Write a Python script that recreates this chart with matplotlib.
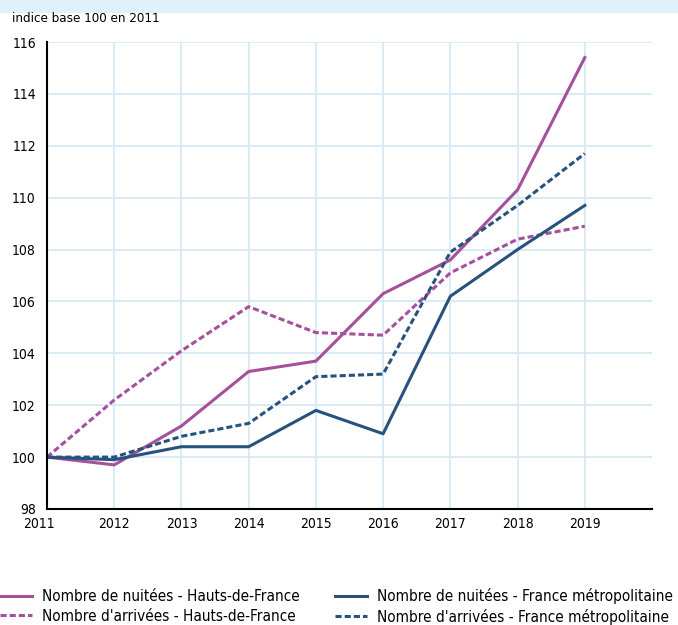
import numpy as np
import matplotlib
matplotlib.use("Agg")
from matplotlib import pyplot as plt
from matplotlib.patches import Rectangle
import matplotlib.transforms as mtransforms

plt.rcParams['font.family'] = ['DejaVu Sans']
plt.rcParams['font.stretch'] = 'condensed'

years = [2011, 2012, 2013, 2014, 2015, 2016, 2017, 2018, 2019]
nuitees_hdf = [100, 99.7, 101.2, 103.3, 103.7, 106.3, 107.6, 110.3, 115.4]
arrivees_hdf = [100, 102.2, 104.1, 105.8, 104.8, 104.7, 107.1, 108.4, 108.9]
nuitees_fr = [100, 99.9, 100.4, 100.4, 101.8, 100.9, 106.2, 108.0, 109.7]
arrivees_fr = [100, 100.0, 100.8, 101.3, 103.1, 103.2, 107.9, 109.7, 111.7]

labels = ["Nombre de nuitées - Hauts-de-France",
          "Nombre d'arrivées - Hauts-de-France",
          "Nombre de nuitées - France métropolitaine",
          "Nombre d'arrivées - France métropolitaine"]

purple = '#a5509a'
blue = '#28527e'
grid_c = '#d5e9f4'

fig = plt.figure(figsize=(6.78, 6.25), dpi=100)
# bandeau du titre (coupé)
fig.patches.append(Rectangle((0, 1 - 12/625), 1, 12/625, transform=fig.transFigure,
                             color='#dff1f9', zorder=0))

ax = fig.add_axes([47/678, 1 - 509/625, 605/678, 467/625])
dash = (0, (2, 1))
ax.plot(years, nuitees_hdf, color=purple, lw=2.2, label=labels[0])
ax.plot(years, arrivees_hdf, color=purple, lw=2.2, ls=dash, label=labels[1])
ax.plot(years, nuitees_fr, color=blue, lw=2.2, label=labels[2])
ax.plot(years, arrivees_fr, color=blue, lw=2.2, ls=dash, label=labels[3])

ax.set_xlim(2011, 2020)
ax.set_ylim(98, 116)
ax.set_xticks(years)
ax.set_yticks(np.arange(98, 117, 2))
ax.grid(True, color=grid_c, lw=1.3)
ax.set_axisbelow(True)
for s in ['top', 'right']:
    ax.spines[s].set_visible(False)
ax.spines['left'].set_linewidth(1.5)
ax.spines['bottom'].set_linewidth(1.5)
ax.tick_params(length=0, labelsize=10, pad=8)
ax.tick_params(axis='x', pad=6)
# 2011 décalé vers la gauche
lab0 = ax.get_xticklabels()[0]
lab0.set_transform(lab0.get_transform() +
                   mtransforms.ScaledTranslation(-8/100, 0, fig.dpi_scale_trans))

fig.text(12/678, 1 - 18/625, "indice base 100 en 2011", fontsize=9.5, va='center', ha='left')

fig.legend(loc='upper left', bbox_to_anchor=(0, 1 - 588/625), ncol=2, frameon=False,
           fontsize=11, handlelength=2.1, handletextpad=0.64, columnspacing=2.3,
           borderpad=0, borderaxespad=0, labelspacing=0.3)

fig.savefig('out.png', dpi=100)
